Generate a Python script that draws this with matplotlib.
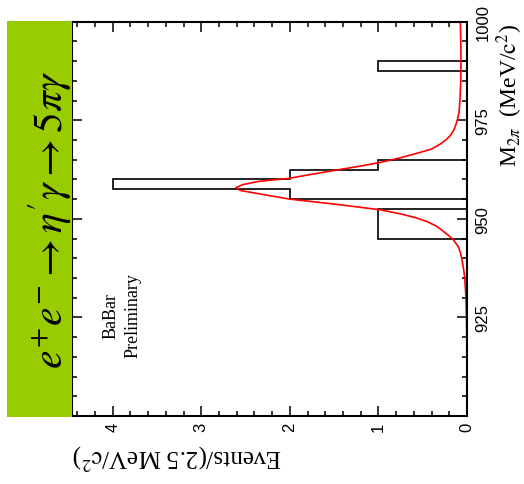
import matplotlib
matplotlib.use("Agg")
import matplotlib.pyplot as plt
from matplotlib.patches import Rectangle
from matplotlib.ticker import MultipleLocator, FixedLocator
from matplotlib import font_manager
import numpy as np

# histogram: 2.5 MeV bins from 900 to 1000
bin_edges = np.arange(900, 1000.01, 2.5)
counts = np.zeros(len(bin_edges) - 1)
filled_bins = {945.0: 1, 947.5: 1, 950.0: 1, 955.0: 2, 957.5: 4,
               960.0: 2, 962.5: 1, 987.5: 1}
for lo, n in filled_bins.items():
    counts[int(round((lo - 900) / 2.5))] = n

# fit curve
curve_m = [900, 910, 920, 925, 930, 935, 937.5, 940, 941.5, 943, 944.85, 946,
           947.4, 948.2, 949.3, 950.3, 951.3, 952.3, 953.7, 955.0, 956.4,
           957.2, 957.9, 958.7, 959.5, 960.3, 961.2, 962.2, 963.2, 964.3,
           965.5, 966.85, 967.7, 969, 970.2, 971.1, 972.5, 973.6, 975, 977,
           980, 985, 990, 995, 1000]
curve_ev = [0.0, 0.0, 0.003, 0.006, 0.012, 0.025, 0.04, 0.06, 0.075, 0.1,
            0.16, 0.22, 0.30, 0.35, 0.45, 0.58, 0.76, 0.98, 1.48, 2.0, 2.36,
            2.56, 2.61, 2.53, 2.35, 2.0, 1.78, 1.52, 1.25, 0.98, 0.75, 0.53,
            0.40, 0.30, 0.23, 0.19, 0.15, 0.13, 0.11, 0.09, 0.08, 0.07, 0.068,
            0.07, 0.075]

m_ticks = [925, 950, 975, 1000]
ev_ticks = [0, 1, 2, 3, 4]

plt.rcParams['font.family'] = ['Liberation Serif', 'DejaVu Serif']
plt.rcParams['mathtext.fontset'] = 'stix'

try:
    font_manager.findfont('Liberation Sans Narrow', fallback_to_default=False)
    tick_font, tick_size = 'Liberation Sans Narrow', 14
except Exception:
    tick_font, tick_size = 'Liberation Sans', 12

W, H = 524, 485
fig = plt.figure(figsize=(W / 100, H / 100), dpi=100)

# green title band
fig.patches.append(Rectangle((7 / W, (H - 418) / H), (72 - 7) / W, (418 - 22) / H,
                             transform=fig.transFigure, facecolor='#99cc00',
                             edgecolor='none', zorder=0))
fig.text(50 / W, 1 - 220 / H,
         r'$e^{+}e^{-}\rightarrow\eta^{\prime}\gamma\rightarrow5\pi\gamma$',
         rotation=90, ha='center', va='center', fontsize=30)

ax = fig.add_axes([72 / W, (H - 417) / H, (467 - 72) / W, (417 - 22.7) / H])

ax.stairs(counts, bin_edges, orientation='horizontal', baseline=0,
          color='black', linewidth=1.2)
ax.plot(curve_ev, curve_m, color='red', linewidth=1.2)

ax.set_xlim(4.46, 0)
ax.set_ylim(900, 1000)
ax.yaxis.tick_right()
ax.yaxis.set_major_locator(FixedLocator(m_ticks))
ax.yaxis.set_minor_locator(MultipleLocator(5))
ax.xaxis.set_major_locator(FixedLocator(ev_ticks))
ax.xaxis.set_minor_locator(MultipleLocator(0.2))
ax.tick_params(which='both', direction='in', top=True, bottom=True,
               left=True, right=True, width=1.1)
ax.tick_params(which='major', length=7)
ax.tick_params(which='minor', length=3.6)
ax.tick_params(axis='x', pad=4)
ax.tick_params(axis='y', pad=6)
for lab in ax.get_xticklabels() + ax.get_yticklabels():
    lab.set_rotation(90)
    lab.set_family(tick_font)
    lab.set_fontsize(tick_size)
for lab in ax.get_yticklabels():
    lab.set_va('center')
for lab in ax.get_xticklabels():
    lab.set_ha('center')
for s in ax.spines.values():
    s.set_linewidth(1.5)

fig.text(494 / W, 1 - 24 / H, r'M$_{2\pi}$  (MeV/$\mathrm{c}^{2}$)',
         rotation=90, ha='left', va='top', fontsize=17)
fig.text(72 / W, 1 - 442 / H, r'Events/(2.5 MeV/$\mathrm{c}^{2}$)',
         rotation=180, ha='left', va='top', fontsize=18)

ax.text(0.098, 0.256, 'BaBar', transform=ax.transAxes, rotation=90,
        ha='center', va='center', fontsize=13)
ax.text(0.154, 0.256, 'Preliminary', transform=ax.transAxes, rotation=90,
        ha='center', va='center', fontsize=13)

fig.savefig('out.png', dpi=100)
